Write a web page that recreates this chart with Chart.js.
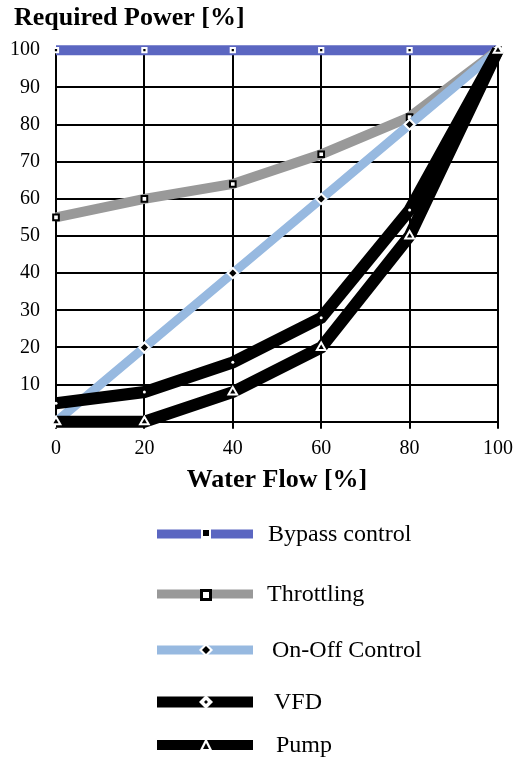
<!DOCTYPE html>
<html><head><meta charset="utf-8">
<script src="https://cdn.jsdelivr.net/npm/chart.js@4/dist/chart.umd.min.js"></script>
<style>html,body{margin:0;padding:0;background:#fff}#wrap{width:523px;height:760px}</style>
</head><body><div id="wrap"><canvas id="c" width="523" height="760"></canvas></div>
<script>
const flow = [0, 20, 40, 60, 80, 100];
const bypassControl = [100, 100, 100, 100, 100, 100];
const throttling = [55, 60, 64, 72, 82, 100];
const onOffControl = [0, 20, 40, 60, 80, 100];
const vfd = [5, 8, 16, 28, 57, 100];
const pump = [0, 0, 8, 20, 50, 100];
const seriesNames = ['Bypass control', 'Throttling', 'On-Off Control', 'VFD', 'Pump'];
const xTickValues = [0, 20, 40, 60, 80, 100];
const yTickValues = [10, 20, 30, 40, 50, 60, 70, 80, 90, 100];

const SERIF = 'Liberation Serif';
const pts = arr => arr.map((v, i) => ({x: flow[i], y: v}));

const styles = [
  {color: '#5B66C1', width: 10, marker: 'bypass', pointStyle: 'rect', pr: 3, pbg: '#000', pbc: '#fff', pbw: 2, order: 5, lw: 9, tx: 268, ly: 534},
  {color: '#999999', width: 10, marker: 'throttle', pointStyle: 'rect', pr: 4, pbg: '#fff', pbc: '#000', pbw: 2, order: 4, lw: 9, tx: 267, ly: 594},
  {color: '#97B9E0', width: 9, marker: 'onoff', pointStyle: 'rectRot', pr: 5, pbg: '#000', pbc: '#fff', pbw: 2, order: 3, lw: 9, tx: 272, ly: 650},
  {color: '#000000', width: 12, marker: 'vfd', pointStyle: 'circle', pr: 1.5, pbg: '#fff', pbc: '#fff', pbw: 0, order: 2, lw: 11, tx: 274, ly: 702},
  {color: '#000000', width: 12, marker: 'pump', pointStyle: 'triangle', pr: 5, pbg: '#000', pbc: '#fff', pbw: 2, order: 1, lw: 10, tx: 276, ly: 745}
];
const seriesData = [bypassControl, throttling, onOffControl, vfd, pump];

function drawMarker(ctx, kind, x, y) {
  ctx.save();
  if (kind === 'bypass') {
    ctx.fillStyle = '#fff'; ctx.fillRect(x - 5, y - 5, 10, 10);
    ctx.fillStyle = '#000'; ctx.fillRect(x - 3, y - 4, 6, 6);
  } else if (kind === 'throttle') {
    ctx.fillStyle = '#000'; ctx.fillRect(x - 6, y - 5, 12, 12);
    ctx.fillStyle = '#fff'; ctx.fillRect(x - 3, y - 2, 6, 6);
  } else if (kind === 'onoff' || kind === 'vfd') {
    ctx.fillStyle = '#fff';
    ctx.beginPath(); ctx.moveTo(x, y - 7); ctx.lineTo(x + 7, y); ctx.lineTo(x, y + 7); ctx.lineTo(x - 7, y); ctx.closePath(); ctx.fill();
    ctx.fillStyle = '#000';
    const r = kind === 'onoff' ? 4 : 2;
    ctx.beginPath(); ctx.moveTo(x, y - r); ctx.lineTo(x + r, y); ctx.lineTo(x, y + r); ctx.lineTo(x - r, y); ctx.closePath(); ctx.fill();
  } else if (kind === 'pump') {
    ctx.fillStyle = '#fff';
    ctx.beginPath(); ctx.moveTo(x, y - 7); ctx.lineTo(x + 6, y + 5); ctx.lineTo(x - 6, y + 5); ctx.closePath(); ctx.fill();
    ctx.fillStyle = '#000';
    ctx.beginPath(); ctx.moveTo(x, y - 2); ctx.lineTo(x + 3, y + 4); ctx.lineTo(x - 3, y + 4); ctx.closePath(); ctx.fill();
  }
  ctx.restore();
}

const legendPlugin = {
  id: 'customLegend',
  afterUpdate(chart) {
    if (chart.titleBlock) chart.titleBlock.left = 14;
  },
  afterDraw(chart) {
    const ctx = chart.ctx;
    ctx.save();
    styles.forEach((s, i) => {
      ctx.strokeStyle = s.color;
      ctx.lineWidth = s.lw;
      ctx.beginPath(); ctx.moveTo(157, s.ly); ctx.lineTo(253, s.ly); ctx.stroke();
      drawMarker(ctx, s.marker, 206, s.ly);
      ctx.fillStyle = '#000';
      ctx.font = '24px "' + SERIF + '"';
      ctx.textBaseline = 'middle';
      ctx.textAlign = 'left';
      ctx.fillText(seriesNames[i], s.tx, s.ly + 1);
    });
    ctx.restore();
  }
};

new Chart(document.getElementById('c'), {
  type: 'line',
  data: {
    datasets: seriesNames.map((name, i) => ({
      label: name,
      data: pts(seriesData[i]),
      borderColor: styles[i].color,
      backgroundColor: styles[i].color,
      borderWidth: styles[i].width,
      pointStyle: styles[i].pointStyle,
      pointRadius: styles[i].pr,
      pointBackgroundColor: styles[i].pbg,
      pointBorderColor: styles[i].pbc,
      pointBorderWidth: styles[i].pbw,
      borderJoinStyle: 'miter',
      tension: 0,
      clip: false,
      order: styles[i].order
    }))
  },
  options: {
    responsive: false,
    animation: false,
    events: [],
    layout: {padding: {left: 4, right: 25, top: 0, bottom: 260}},
    plugins: {
      legend: {display: false},
      tooltip: {enabled: false},
      title: {
        display: true, text: 'Required Power [%]', align: 'start', color: '#000',
        font: {family: SERIF, size: 26, weight: 'bold', lineHeight: 1.2},
        padding: {top: 3, bottom: 16}
      }
    },
    scales: {
      x: {
        type: 'linear', min: 0, max: 100,
        afterBuildTicks: s => { s.ticks = xTickValues.map(v => ({value: v})); },
        ticks: {color: '#000', font: {family: SERIF, size: 20}, padding: 8, maxRotation: 0},
        grid: {color: '#000', lineWidth: 2, tickLength: 7, drawTicks: true},
        border: {color: '#000', width: 2},
        title: {display: true, text: 'Water Flow [%]', color: '#000', font: {family: SERIF, size: 26, weight: 'bold'}, padding: {top: -4, bottom: 4}}
      },
      y: {
        type: 'linear', min: 0, max: 100,
        afterBuildTicks: s => { s.ticks = [0].concat(yTickValues).map(v => ({value: v})); },
        afterFit: s => { s.width = 52; },
        ticks: {color: '#000', font: {family: SERIF, size: 20}, padding: 16, callback: v => (v === 0 ? '' : v)},
        grid: {color: '#000', lineWidth: 2, drawTicks: false},
        border: {color: '#000', width: 2}
      }
    }
  },
  plugins: [legendPlugin]
});
</script>
</body></html>
